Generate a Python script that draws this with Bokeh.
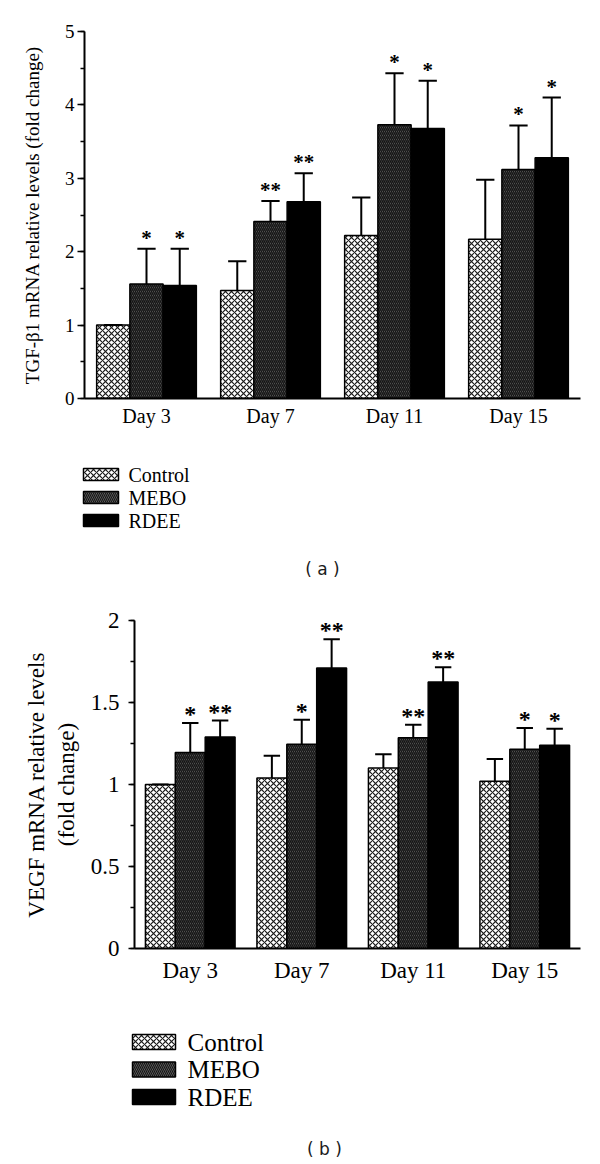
from bokeh.plotting import figure
from bokeh.layouts import column, row
from bokeh.models import Range1d, SingleIntervalTicker, FixedTicker, ColumnDataSource
from bokeh.core.properties import value
from bokeh.embed import file_html
from bokeh.resources import INLINE

# ---------------- data ----------------
days = ["Day 3", "Day 7", "Day 11", "Day 15"]
groups = ["Control", "MEBO", "RDEE"]

# (a) TGF-beta1 mRNA relative levels
tgf_control = [1.00, 1.47, 2.22, 2.17]
tgf_control_sd = [0.00, 0.40, 0.52, 0.81]
tgf_mebo = [1.56, 2.41, 3.73, 3.12]
tgf_mebo_sd = [0.48, 0.28, 0.70, 0.60]
tgf_rdee = [1.54, 2.68, 3.68, 3.28]
tgf_rdee_sd = [0.50, 0.39, 0.65, 0.82]
tgf_control_sig = ["", "", "", ""]
tgf_mebo_sig = ["*", "**", "*", "*"]
tgf_rdee_sig = ["*", "**", "*", "*"]

# (b) VEGF mRNA relative levels
vegf_control = [1.00, 1.04, 1.10, 1.02]
vegf_control_sd = [0.00, 0.135, 0.085, 0.135]
vegf_mebo = [1.195, 1.245, 1.285, 1.215]
vegf_mebo_sd = [0.18, 0.15, 0.08, 0.13]
vegf_rdee = [1.29, 1.71, 1.625, 1.24]
vegf_rdee_sd = [0.10, 0.175, 0.09, 0.10]
vegf_control_sig = ["", "", "", ""]
vegf_mebo_sig = ["*", "*", "**", "*"]
vegf_rdee_sig = ["**", "**", "**", "*"]

SERIF = "Liberation Serif"
STYLES = {
    "Control": dict(fill_color="white", hatch_pattern="x", hatch_color="#1a1a1a", hatch_scale=6, hatch_weight=1.2),
    "MEBO": dict(fill_color="#6c6c6c", hatch_pattern="\\", hatch_color="#141414", hatch_scale=4, hatch_weight=1.5),
    "RDEE": dict(fill_color="black", hatch_pattern=" ", hatch_color="black", hatch_scale=4, hatch_weight=1),
}

BAR_W = 0.268
CAP_FRAC = 0.55
W = 600


def make_panel(height, border_left, border_top, border_bottom, ymax, interval,
               ylabel, series, sizes):
    p = figure(width=W, height=height, output_backend="svg", toolbar_location=None,
               x_range=Range1d(-0.5, 3.5), y_range=Range1d(0, ymax),
               min_border_left=border_left, min_border_right=20,
               min_border_top=border_top, min_border_bottom=border_bottom)
    p.grid.visible = False
    p.outline_line_color = None
    offsets = [-BAR_W, 0.0, BAR_W]
    for k, (name, vals, sds, sig) in enumerate(series):
        xs = [i + offsets[k] for i in range(len(days))]
        tops = [v + s for v, s in zip(vals, sds)]
        src = ColumnDataSource(dict(
            x=xs, top=vals, etop=tops,
            cx0=[x - BAR_W * CAP_FRAC / 2 for x in xs],
            cx1=[x + BAR_W * CAP_FRAC / 2 for x in xs],
            sig=sig))
        p.vbar(x="x", top="top", bottom=0, width=BAR_W, source=src,
               line_color="black", line_width=1.5, **STYLES[name])
        p.segment(x0="x", y0="top", x1="x", y1="etop", source=src,
                  line_color="black", line_width=2)
        p.segment(x0="cx0", y0="etop", x1="cx1", y1="etop", source=src,
                  line_color="black", line_width=2)
        p.text(x="x", y="etop", text="sig", source=src, text_align="center",
               text_baseline="alphabetic", y_offset=sizes["star_off"],
               text_font=value(SERIF), text_font_size=sizes["star"],
               text_font_style="bold", text_color="black")

    xa = p.xaxis[0]
    xa.ticker = FixedTicker(ticks=list(range(len(days))))
    xa.major_label_overrides = {i: d for i, d in enumerate(days)}
    xa.major_tick_out = 0
    xa.major_tick_in = 0
    xa.minor_tick_out = 0
    xa.minor_tick_in = 0
    xa.axis_line_width = 2
    xa.major_label_text_font = SERIF
    xa.major_label_text_font_size = sizes["xlab"]
    xa.major_label_text_color = "black"
    xa.major_label_standoff = sizes["xstand"]

    ya = p.yaxis[0]
    ya.ticker = SingleIntervalTicker(interval=interval, num_minor_ticks=2)
    ticks = []
    t = 0.0
    while t <= ymax + 1e-9:
        ticks.append(round(t, 3))
        t += interval
    ya.major_label_overrides = {tk: ("%g" % tk) for tk in ticks}
    ya.axis_line_width = 2
    ya.major_tick_line_width = 1.5
    ya.minor_tick_line_width = 1.5
    ya.major_tick_out = sizes["tick"]
    ya.major_tick_in = 0
    ya.minor_tick_out = 4
    ya.minor_tick_in = 0
    ya.major_label_text_font = SERIF
    ya.major_label_text_font_size = sizes["ytick"]
    ya.major_label_text_color = "black"
    ya.major_label_standoff = sizes["ystand"]
    ya.axis_label = ylabel
    ya.axis_label_text_font = SERIF
    ya.axis_label_text_font_style = "normal"
    ya.axis_label_text_font_size = sizes["ylab"]
    ya.axis_label_text_color = "black"
    ya.axis_label_standoff = sizes["ylstand"]
    return p


def make_legend(height, sw_cx, sw_w, sw_h, row0, row_gap, text_x, font_size,
                caption, cap_x, cap_y):
    lg = figure(width=W, height=height, output_backend="svg", toolbar_location=None,
                x_range=Range1d(0, W), y_range=Range1d(height, 0),
                x_axis_type=None, y_axis_type=None, min_border=0)
    lg.grid.visible = False
    lg.outline_line_color = None
    ys = [row0 + i * row_gap for i in range(len(groups))]
    src = ColumnDataSource(dict(
        x=[sw_cx] * len(groups), y=ys, name=groups,
        fill=[STYLES[g]["fill_color"] for g in groups],
        hatch=[STYLES[g]["hatch_pattern"] for g in groups],
        hcol=[STYLES[g]["hatch_color"] for g in groups],
        hscale=[STYLES[g]["hatch_scale"] for g in groups],
        tx=[text_x] * len(groups)))
    lg.rect(x="x", y="y", width=sw_w, height=sw_h, source=src, fill_color="fill",
            hatch_pattern="hatch", hatch_color="hcol", hatch_scale="hscale",
            hatch_weight=1.2, line_color="black", line_width=1.5)
    lg.text(x="tx", y="y", text="name", source=src, text_align="left",
            text_baseline="middle", text_font=value(SERIF),
            text_font_size=font_size, text_color="black")
    lg.text(x=[cap_x], y=[cap_y], text=[caption], text_align="center",
            text_baseline="middle", text_font=value("DejaVu Sans"),
            text_font_size="17px", text_color="#1a1a1a")
    return lg


pa = make_panel(430, 84, 31, 32, 5, 1,
                "TGF-\u03b21 mRNA relative levels (fold change)",
                [("Control", tgf_control, tgf_control_sd, tgf_control_sig),
                 ("MEBO", tgf_mebo, tgf_mebo_sd, tgf_mebo_sig),
                 ("RDEE", tgf_rdee, tgf_rdee_sd, tgf_rdee_sig)],
                dict(star="21px", star_off=-11, xlab="20px", xstand=6, tick=7,
                     ytick="19px", ystand=3, ylab="19px", ylstand=19))
la = make_legend(170, 100.5, 35, 12, 44, 23, 128, "20px", "( a )", 322, 138)

pb = make_panel(390, 134, 20, 42, 2, 0.5,
                "VEGF mRNA relative levels\n(fold change)",
                [("Control", vegf_control, vegf_control_sd, vegf_control_sig),
                 ("MEBO", vegf_mebo, vegf_mebo_sd, vegf_mebo_sig),
                 ("RDEE", vegf_rdee, vegf_rdee_sd, vegf_rdee_sig)],
                dict(star="24px", star_off=-9, xlab="23px", xstand=9, tick=6,
                     ytick="23px", ystand=9, ylab="23px", ylstand=9))
lb = make_legend(174, 153.5, 43, 15, 51.5, 27.5, 187, "25px", "( b )", 324, 158)

layout = column(row(pa), row(la), row(pb), row(lb), spacing=0)
open("out.html", "w").write(file_html(layout, INLINE))
